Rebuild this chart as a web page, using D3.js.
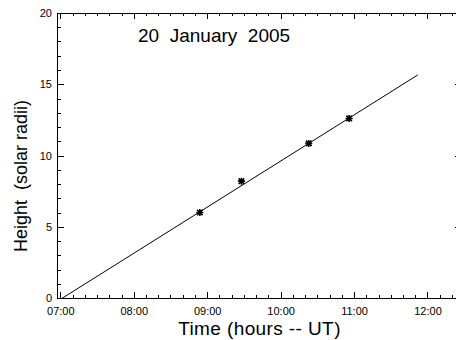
<!DOCTYPE html>
<meta charset="utf-8">
<style>
body { margin: 0; background: #fff; }
text { font-family: "Liberation Sans", Arial, sans-serif; fill: #000; }
</style>
<body>
<script src="https://cdn.jsdelivr.net/npm/d3@7"></script>
<script>

// observations (time UT, height in solar radii)
var pointTimes = ["08:54", "09:28", "10:23", "10:56"];
var pointHeights = [6.0, 8.2, 10.85, 12.6];

// linear fit drawn through the points
var fitTimes = ["07:00", "11:52"];
var fitHeights = [-0.1, 15.65];

var hourTicks = [7, 8, 9, 10, 11, 12];
var heightTicks = [0, 5, 10, 15, 20];

var chartTitle = "20  January  2005";
var xTitle = "Time (hours -- UT)";
var yTitle = "Height  (solar radii)";

var W = 456, H = 340;
var plotL = 57, plotR = 462, plotT = 13, plotB = 298;

function toHours(s) {
  var p = s.split(":");
  return +p[0] + (+p[1]) / 60;
}

var x = d3.scaleLinear().domain([6.955, 12.47]).range([plotL, plotR]);
var y = d3.scaleLinear().domain([0, 20]).range([plotB, plotT]);

var svg = d3.select("body").append("svg")
    .attr("width", W)
    .attr("height", H);

svg.append("defs").append("clipPath").attr("id", "plotclip")
  .append("rect")
    .attr("x", plotL).attr("y", plotT - 2)
    .attr("width", plotR - plotL).attr("height", plotB - plotT + 2);

var minorX = d3.range(42, 75).map(function(d) { return d / 6; })
    .filter(function(d) { return Math.abs(d - Math.round(d)) > 1e-6; });
var minorY = d3.range(1, 20).filter(function(d) { return d % 5 !== 0; });

var fmtHour = function(d) { return d3.format("02d")(d) + ":00"; };

// tick labels (axes with no tick marks; the marks are drawn below)
svg.append("g")
    .attr("transform", "translate(0," + plotB + ")")
    .call(d3.axisBottom(x).tickValues(hourTicks).tickSize(0).tickPadding(9).tickFormat(fmtHour));
svg.append("g")
    .attr("transform", "translate(" + plotL + ",0)")
    .call(d3.axisLeft(y).tickValues(heightTicks).tickSize(0).tickPadding(5));
svg.selectAll(".domain").remove();
svg.selectAll(".tick line").remove();
svg.selectAll(".tick text")
    .style("font-size", "11px")
    .style("font-family", "'Liberation Sans', Arial, sans-serif");

// tick marks, pointing into the plot on all four sides
var tk = "";
hourTicks.forEach(function(d) {
  var px = Math.round(x(d)) + 0.5;
  tk += "M" + px + "," + plotB + "v-6M" + px + "," + plotT + "v6";
});
minorX.forEach(function(d) {
  var px = Math.round(x(d)) + 0.5;
  tk += "M" + px + "," + plotB + "v-3M" + px + "," + plotT + "v3";
});
heightTicks.forEach(function(d) {
  var py = Math.round(y(d)) + 0.5;
  tk += "M" + plotL + "," + py + "h7M" + plotR + "," + py + "h-7";
});
minorY.forEach(function(d) {
  var py = Math.round(y(d)) + 0.5;
  tk += "M" + plotL + "," + py + "h4M" + plotR + "," + py + "h-4";
});
svg.append("path")
    .attr("d", tk)
    .attr("fill", "none")
    .attr("stroke", "#000")
    .attr("stroke-width", 1);

// plot frame
svg.append("rect")
    .attr("x", plotL + 0.5).attr("y", plotT + 0.5)
    .attr("width", plotR - plotL).attr("height", plotB - plotT)
    .attr("fill", "none")
    .attr("stroke", "#000");

// fit line
var fitLine = d3.line()
    .x(function(d) { return x(toHours(d[0])); })
    .y(function(d) { return y(d[1]); });

svg.append("path")
    .datum(d3.zip(fitTimes, fitHeights))
    .attr("clip-path", "url(#plotclip)")
    .attr("fill", "none")
    .attr("stroke", "#000")
    .attr("stroke-width", 1)
    .attr("d", fitLine);

// asterisk markers
var r = 3.5;
var star = "M" + (-r) + ",0H" + r + "M0," + (-r) + "V" + r +
    "M" + (-r * 0.8) + "," + (-r * 0.8) + "L" + (r * 0.8) + "," + (r * 0.8) +
    "M" + (-r * 0.8) + "," + (r * 0.8) + "L" + (r * 0.8) + "," + (-r * 0.8);

svg.selectAll(".pt")
    .data(d3.zip(pointTimes, pointHeights))
  .enter().append("path")
    .attr("class", "pt")
    .attr("transform", function(d) { return "translate(" + x(toHours(d[0])) + "," + y(d[1]) + ")"; })
    .attr("d", star)
    .attr("stroke", "#000")
    .attr("stroke-width", 1.6)
    .attr("fill", "none");

// titles
svg.append("text")
    .attr("x", 138)
    .attr("y", 42)
    .style("font-size", "19px")
    .style("white-space", "pre")
    .text(chartTitle);

svg.append("text")
    .attr("x", (plotL + plotR) / 2)
    .attr("y", 335)
    .attr("text-anchor", "middle")
    .style("font-size", "19px")
    .style("letter-spacing", "0.4px")
    .style("white-space", "pre")
    .text(xTitle);

svg.append("text")
    .attr("transform", "translate(27,176) rotate(-90)")
    .attr("text-anchor", "middle")
    .style("font-size", "18px")
    .style("white-space", "pre")
    .text(yTitle);

</script>
</body>
